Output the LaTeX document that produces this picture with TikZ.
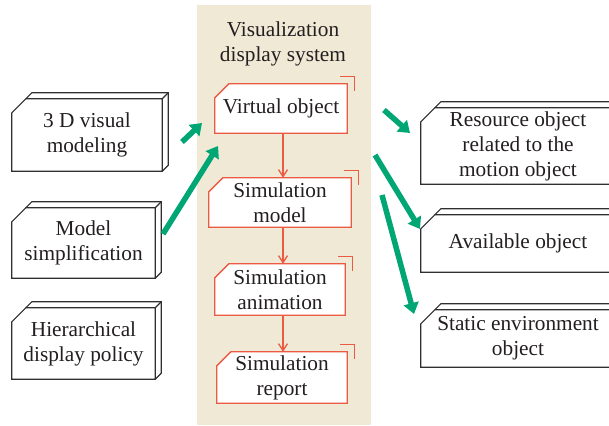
\documentclass[tikz,border=0pt]{standalone}
\usepackage{fontspec}
\setmainfont{Liberation Serif}
\usetikzlibrary{arrows.meta,calc}
\definecolor{bgbeige}{HTML}{EFE9D6}
\definecolor{redline}{HTML}{EB5A43}
\definecolor{greenarrow}{HTML}{00A673}
\definecolor{txtcol}{HTML}{231F20}
\definecolor{cardcol}{HTML}{2F2F2F}
\pgfdeclarelayer{bgbg}
\pgfdeclarelayer{bg}
\pgfsetlayers{bgbg,bg,main}
\tikzset{
  lbl/.style={font=\fontsize{21.3}{25}\selectfont, text=txtcol, align=center, inner sep=0pt},
  cardbox/.style={lbl},
  cardline/.style={draw=cardcol, line width=1.2pt, line join=miter},
  redbox/.style={draw=redline, line width=1.3pt, fill=white},
  redarrow/.style={draw=redline, line width=1.3pt, -{Straight Barb[length=7pt,width=9pt]}},
  greenarr/.style={draw=greenarrow, line width=5.5pt, -{Triangle[length=11pt,width=15pt]}},
}
\newcommand{\threedcard}[1]{%
  \begin{pgfonlayer}{bg}
  \filldraw[cardline, fill=white] ($(#1.north west)+(0,14)$) -- ($(#1.north west)+(14,0)$) -- (#1.north east) -- (#1.south east) -- (#1.south west) -- cycle;
  \draw[cardline] ($(#1.north west)+(14,0)$) -- ($(#1.north west)+(20,-6)$) -- ($(#1.north east)+(6,-6)$) -- ($(#1.south east)+(6,-6)$) -- (#1.south east);
  \draw[cardline] (#1.north east) -- ($(#1.north east)+(6,-6)$);
  \end{pgfonlayer}}
\newcommand{\redcard}[1]{%
  \begin{pgfonlayer}{bg}
  \filldraw[redbox] ($(#1.north west)+(0,14)$) -- ($(#1.north west)+(14,0)$) -- (#1.north east) -- (#1.south east) -- (#1.south west) -- cycle;
  \draw[redbox, fill=none] ($(#1.north east)+(-7,-7)$) -- ($(#1.north east)+(7,-7)$) -- ($(#1.north east)+(7,7)$);
  \end{pgfonlayer}}
\begin{document}
\begin{tikzpicture}[x=1pt,y=-1pt]
\useasboundingbox (0,0) rectangle (609,425);
\clip (0,0) rectangle (609,425);
\begin{pgfonlayer}{bgbg}
\fill[bgbeige] (197,5) rectangle (371,425);
\end{pgfonlayer}

% title
\node[lbl] (title) at (283,44) {Visualization\\display system};

% left cards
\node[cardbox, minimum width=150pt, minimum height=72pt] (l1) at (87,135) {3 D visual\\modeling};
\node[cardbox, minimum width=143pt, minimum height=70pt] (l2) at (83.5,243) {Model\\simplification};
\node[cardbox, minimum width=143pt, minimum height=71pt] (l3) at (83.5,343.5) {Hierarchical\\display policy};
\threedcard{l1}\threedcard{l2}\threedcard{l3}

% right cards
\node[cardbox, minimum width=194pt, minimum height=76pt] (r1) at (518,146) {Resource object\\related to the\\motion object};
\node[cardbox, minimum width=194pt, minimum height=57pt] (r2) at (518,243.5) {Available object};
\node[cardbox, minimum width=194pt, minimum height=57pt] (r3) at (518,338.5) {Static environment\\object};
\threedcard{r1}\threedcard{r2}\threedcard{r3}

% red flow boxes
\node[lbl, minimum width=132pt, minimum height=49pt] (v) at (281,108.5) {Virtual object};
\node[lbl, minimum width=142pt, minimum height=49pt] (sm) at (280,202.5) {Simulation\\model};
\node[lbl, minimum width=130pt, minimum height=51pt] (sa) at (280,289.5) {Simulation\\animation};
\node[lbl, minimum width=130pt, minimum height=51pt] (sr) at (282,377.5) {Simulation\\report};
\redcard{v}\redcard{sm}\redcard{sa}\redcard{sr}

\coordinate (ax) at (283,0);
\draw[redarrow] (v.south -| ax) -- (sm.north -| ax);
\draw[redarrow] (sm.south -| ax) -- (sa.north -| ax);
\draw[redarrow] (sa.south -| ax) -- (sr.north -| ax);

% green arrows
\coordinate (g1s) at (182,142);
\coordinate (g1e) at (202,123);
\coordinate (g2s) at (163,234);
\coordinate (g2e) at (218,146);
\coordinate (g3s) at (384,110);
\coordinate (g3e) at (410,133);
\coordinate (g4s) at (375,155);
\coordinate (g4e) at (420,229);
\coordinate (g5s) at (382,195);
\coordinate (g5e) at (414,314);
\draw[greenarr] (g1s) -- (g1e);
\draw[greenarr] (g2s) -- (g2e);
\draw[greenarr] (g3s) -- (g3e);
\draw[greenarr] (g4s) -- (g4e);
\draw[greenarr] (g5s) -- (g5e);
\end{tikzpicture}
\end{document}
